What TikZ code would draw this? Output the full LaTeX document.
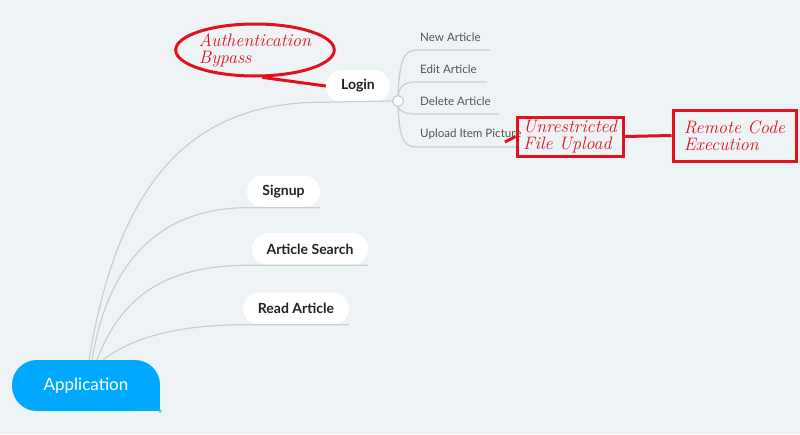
\documentclass[tikz,border=0pt]{standalone}
\usepackage{fontspec}
\setsansfont{Lato}
\usetikzlibrary{shapes.geometric}
\definecolor{bgc}{HTML}{EEF3F6}
\definecolor{linegray}{HTML}{C9CDD0}
\definecolor{appblue}{HTML}{00A8FF}
\definecolor{annred}{HTML}{E0121E}
\definecolor{textdark}{HTML}{222222}
\definecolor{textgray}{HTML}{555555}
\begin{document}
\begin{tikzpicture}[x=1pt,y=-1pt,
  conn/.style={draw=linegray,line width=1.2pt},
  mainnode/.style={fill=white,rounded corners=16pt,minimum height=32pt,inner sep=0pt,
    font=\sffamily\bfseries\fontsize{14}{16}\selectfont,text=textdark},
  subnode/.style={font=\sffamily\fontsize{11.6}{13}\selectfont,text=textgray,anchor=base west,inner sep=0pt},
  redline/.style={draw=annred,line width=3pt},
  redtext/.style={font=\itshape\fontsize{18}{17}\selectfont,text=annred,align=left},
  redbox/.style={draw=annred,line width=3pt,redtext,inner sep=0pt}]
\useasboundingbox[fill=bgc] (0,0) rectangle (800,434);

% root
\node[fill=appblue,rounded corners=25pt,minimum width=148pt,minimum height=51pt,inner sep=0pt,
  text=white,font=\sffamily\fontsize{17}{19}\selectfont] (root) at (86,385.5) {Application};
\fill[appblue] (root.south east) rectangle ++(-26,-26);
\fill[appblue!70!white] (root.south east) circle (1.8pt);

% main nodes
\node[mainnode,minimum width=64pt] (login) at (358,86) {Login};
\node[mainnode,minimum width=73pt] (signup) at (283.5,191.5) {Signup};
\node[mainnode,minimum width=116pt] (search) at (310,249) {Article Search};
\node[mainnode,minimum width=106pt] (read) at (296,308.5) {Read Article};

% hub circle
\node[circle,draw=linegray,fill=white,line width=1.2pt,minimum size=11pt,inner sep=0pt] (hub) at (398,101) {};

% sub nodes
\node[subnode] (newa) at (420,41) {New Article};
\node[subnode] (edita) at (420,73) {Edit Article};
\node[subnode] (dela) at (420,105) {Delete Article};
\node[subnode] (upload) at (420,137) {Upload Item Picture};
\coordinate (newe) at (490,50);
\coordinate (edite) at (487,82);
\coordinate (dele) at (499,114);
\coordinate (uple) at (518,147);

% root connectors
\coordinate (r1) at (89,360);
\coordinate (r2) at (92,360);
\coordinate (r3) at (97,360);
\coordinate (r4) at (103,360);
\draw[conn] (r1) .. controls (120,170) and (200,101) .. (login.south west) -- (hub.west);
\draw[conn] (r2) .. controls (110,250) and (170,208) .. (signup.south west) -- (signup.south east);
\draw[conn] (r3) .. controls (125,285) and (180,265) .. (search.south west) -- (search.south east);
\draw[conn] (r4) .. controls (135,335) and (185,325) .. (read.south west) -- (read.south east);

% hub connectors
\draw[conn] (hub.north) .. controls (400,60) and (403,50) .. (418,50) -- (newe);
\draw[conn] (hub.north) .. controls (400,86) and (405,82) .. (415,82) -- (edite);
\draw[conn] (hub.south) .. controls (400,111) and (405,114) .. (415,114) -- (dele);
\draw[conn] (hub.south) .. controls (400,140) and (403,147) .. (418,147) -- (uple);

% annotations
\node[ellipse,draw=annred,line width=3pt,minimum width=146pt,minimum height=52pt,inner sep=0pt,redtext] (auth) at (255,50)
  {Authentication\\Bypass};
\draw[redline] (auth.-75) -- (login.west);

\node[redbox,minimum width=106pt,minimum height=39pt] (ufu) at (570,136.5) {Unrestricted\\File Upload};
\node[redbox,minimum width=123pt,minimum height=51pt] (rce) at (734.5,135.5) {Remote Code\\Execution};
\coordinate (stub) at (505,142);
\draw[redline] (stub) -- (ufu.west);
\draw[redline] (ufu.east) -- (rce.west);
\end{tikzpicture}
\end{document}
